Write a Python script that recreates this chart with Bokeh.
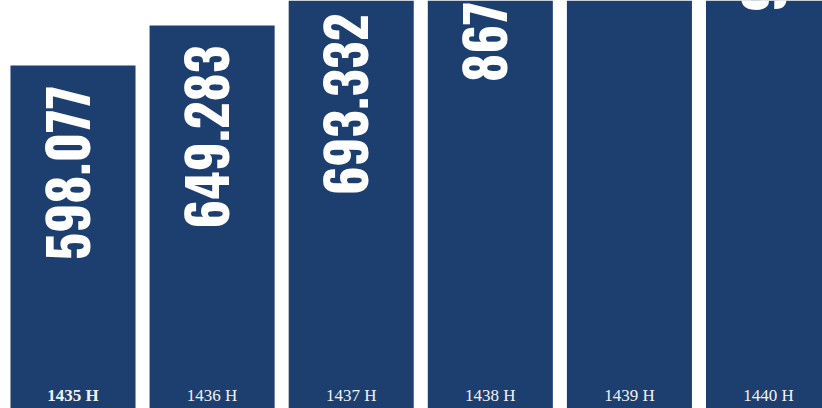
import numpy as np
from bokeh.plotting import figure
from bokeh.models import ColumnDataSource, Range1d
from bokeh.core.properties import value
from bokeh.embed import file_html
from bokeh.resources import INLINE

years = ["1435 H", "1436 H", "1437 H", "1438 H", "1439 H", "1440 H"]
values = [598.077, 649.283, 693.332, 867.556, 1095.418, 974.271]
value_labels = ["598.077", "649.283", "693.332", "867.556", "1095.418", "974.271"]
year_bold = ["bold", "normal", "normal", "normal", "normal", "normal"]

BAR = "#1d3f70"
Y_START = 295.74
pos = np.arange(len(years))

src = ColumnDataSource(dict(x=pos, top=values, lbl=value_labels, yr=years, fs=year_bold))

p = figure(width=822, height=408, output_backend="svg", toolbar_location=None,
           y_axis_type="log",
           x_range=Range1d(-0.5212, 5.388), y_range=Range1d(Y_START, 683.48),
           min_border=0, min_border_left=0, min_border_right=0,
           min_border_top=0, min_border_bottom=0)
p.axis.visible = False
p.grid.visible = False
p.outline_line_color = None
p.background_fill_color = "white"
p.border_fill_color = "white"

p.vbar(x="x", top="top", bottom=Y_START, width=0.899, source=src,
       fill_color=BAR, line_color=None)

p.text(x="x", y="top", text="lbl", source=src, angle=np.pi / 2,
       text_align="right", text_baseline="middle", x_offset=-5, y_offset=20,
       text_color="white", text_font=value("Oswald"),
       text_font_style="bold", text_font_size="54px")

p.text(x="x", y=Y_START, text="yr", source=src, text_align="center",
       text_baseline="bottom", y_offset=-4, text_color="#f2f2f2",
       text_font=value("Liberation Serif"), text_font_style="fs",
       text_font_size="17px")

open("out.html", "w").write(file_html(p, INLINE))
